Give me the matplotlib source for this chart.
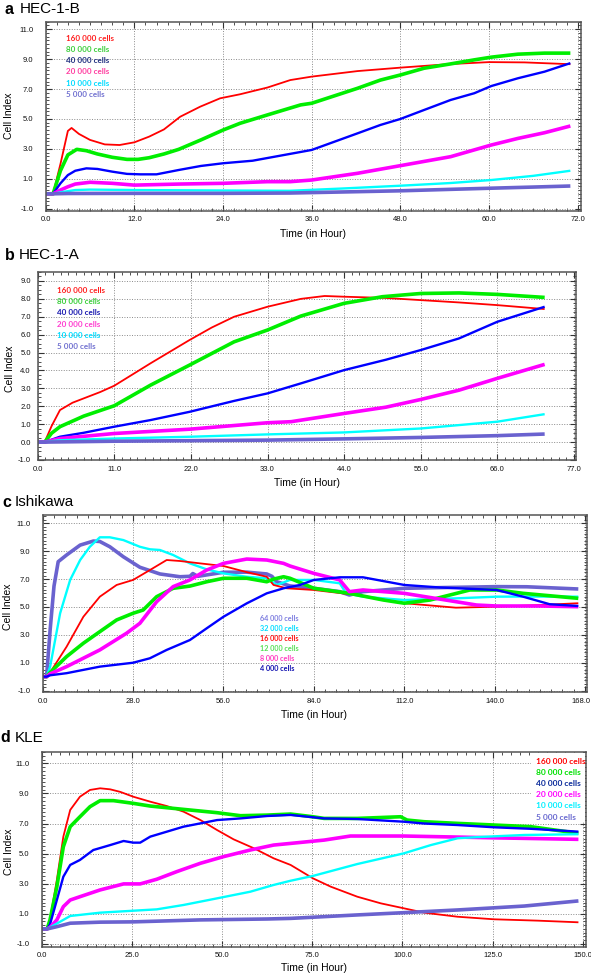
import matplotlib
matplotlib.use("Agg")
import matplotlib.pyplot as plt
import matplotlib.transforms as mtransforms
from matplotlib.ticker import AutoMinorLocator, FixedLocator
import numpy as np

W, H = 591, 976

# ---------------- Panel a: HEC-1-B ----------------
a_red_t = [0, 1.0, 2.0, 3.0, 3.5, 4.5, 6, 8, 10, 12, 14, 16, 18.2, 20.9, 23.6, 26.3, 30, 33.1, 36, 42.2, 48, 54.4, 60, 64.8, 71]
a_red_v = [0, 0, 2.0, 4.2, 4.4, 4.0, 3.6, 3.3, 3.26, 3.44, 3.82, 4.3, 5.15, 5.82, 6.38, 6.65, 7.1, 7.6, 7.83, 8.2, 8.43, 8.66, 8.8, 8.78, 8.66]
a_green_t = [0, 1, 2, 3, 4.2, 5.5, 7, 9, 11, 12.5, 14, 16, 18, 21, 24, 26.3, 30, 34.5, 36, 42.2, 45.3, 48, 51.2, 54.8, 58, 60.3, 63.9, 67.5, 71]
a_green_v = [0, 0, 1.55, 2.6, 2.97, 2.88, 2.66, 2.44, 2.3, 2.3, 2.41, 2.66, 2.97, 3.6, 4.26, 4.71, 5.27, 5.94, 6.05, 7.05, 7.6, 7.94, 8.39, 8.68, 8.95, 9.13, 9.33, 9.4, 9.4]
a_blue_t = [0, 1, 2, 3, 4, 5.5, 7, 9, 11, 12.8, 15, 18, 21, 24, 28, 33, 36, 42.2, 45.3, 48, 51.2, 54.8, 58, 60.3, 63.9, 67.5, 71]
a_blue_v = [0, 0, 0.7, 1.25, 1.54, 1.7, 1.66, 1.48, 1.33, 1.3, 1.3, 1.59, 1.86, 2.04, 2.21, 2.66, 2.93, 4.04, 4.6, 5.0, 5.6, 6.27, 6.72, 7.2, 7.72, 8.16, 8.73]
a_mag_t = [0, 1, 2, 3, 4, 6, 9, 12, 18, 24, 30, 33.1, 36, 42.2, 48, 54.8, 60.3, 63.9, 67.5, 71]
a_mag_v = [0, 0, 0.25, 0.47, 0.65, 0.77, 0.7, 0.58, 0.65, 0.7, 0.81, 0.81, 0.92, 1.37, 1.88, 2.48, 3.26, 3.7, 4.08, 4.53]
a_cyan_t = [0, 1, 2, 4, 6, 12, 24, 33, 40, 48, 54.8, 60.3, 66, 71]
a_cyan_v = [0, 0, 0.1, 0.25, 0.28, 0.25, 0.22, 0.2, 0.35, 0.54, 0.72, 0.92, 1.2, 1.54]
a_pur_t = [0, 1, 3, 12, 24, 33, 40, 48, 55, 60, 66, 71]
a_pur_v = [0, 0, 0.02, 0.03, 0.03, 0.05, 0.12, 0.2, 0.3, 0.37, 0.45, 0.52]
a_labels = ["160 000 cells", "80 000 cells", "40 000 cells", "20 000 cells", "10 000 cells", "5 000 cells"]

# ---------------- Panel b: HEC-1-A ----------------
b_red_t = [0, 1, 2, 3.2, 5, 6.6, 9, 11, 13.5, 16.2, 19, 21.8, 25, 28.2, 33, 37.8, 41.2, 44, 50, 55, 60.5, 66, 72.8]
b_red_v = [0, 0, 0.9, 1.79, 2.2, 2.44, 2.8, 3.15, 3.75, 4.4, 5.05, 5.7, 6.4, 7.0, 7.56, 8.0, 8.16, 8.12, 8.05, 7.93, 7.8, 7.65, 7.43]
b_green_t = [0, 1, 2, 3.2, 6.6, 11, 16.2, 21.8, 28.2, 33, 37.8, 44, 49.5, 55, 60.5, 66, 72.8]
b_green_v = [0, 0, 0.5, 0.86, 1.45, 2.03, 3.18, 4.3, 5.6, 6.26, 7.04, 7.75, 8.12, 8.3, 8.33, 8.25, 8.08]
b_blue_t = [0, 1, 3.2, 6.6, 11, 16.2, 21.8, 28.2, 33, 37.8, 44, 50, 55, 60.5, 66, 72.8]
b_blue_v = [0, 0, 0.3, 0.52, 0.86, 1.23, 1.69, 2.3, 2.72, 3.28, 4.02, 4.6, 5.14, 5.79, 6.72, 7.56]
b_mag_t = [0, 1, 3.2, 11, 21.8, 33, 36.4, 44, 50, 55, 60.5, 66, 72.8]
b_mag_v = [0, 0, 0.2, 0.48, 0.72, 1.08, 1.14, 1.6, 1.95, 2.38, 2.9, 3.56, 4.34]
b_cyan_t = [0, 1, 3, 11, 22, 33, 44, 55, 66, 72.8]
b_cyan_v = [0, 0, 0.1, 0.2, 0.3, 0.43, 0.54, 0.76, 1.14, 1.56]
b_pur_t = [0, 1, 11, 22, 33, 44, 55, 66, 72.8]
b_pur_v = [0, 0, 0.05, 0.08, 0.11, 0.18, 0.26, 0.36, 0.45]
b_labels = a_labels

# ---------------- Panel c: Ishikawa ----------------
c_pur_t = [0, 1.2, 2.3, 3.5, 4.8, 7.4, 11.6, 15.7, 17.7, 20.8, 25, 30.1, 36.3, 42.5, 45.6, 46.5, 48, 56, 63.2, 69.4, 71, 72.5, 76.6, 84, 92, 95, 99.2, 112, 128, 140.6, 150, 165.9]
c_pur_v = [0, 0, 3.35, 6.5, 8.25, 8.73, 9.44, 9.73, 9.7, 9.32, 8.6, 7.85, 7.37, 7.17, 7.2, 7.4, 7.2, 7.49, 7.5, 7.37, 7.2, 6.81, 6.51, 6.34, 6.1, 5.86, 6.1, 6.34, 6.41, 6.46, 6.45, 6.29]
c_cyan_t = [0, 1.2, 2.3, 5.4, 8.5, 11.6, 14.6, 17.7, 20.8, 25, 30.1, 33.2, 36.3, 40.4, 45.6, 50.8, 56, 63.2, 69.4, 72.5, 76.6, 84, 92, 94, 99.2, 112, 128, 140.6, 150, 165.9]
c_cyan_v = [0, 0, 0.72, 4.55, 6.94, 8.37, 9.32, 10.0, 10.0, 9.8, 9.32, 9.14, 9.09, 8.73, 8.13, 7.7, 7.41, 7.17, 7.06, 6.58, 6.94, 6.94, 6.7, 5.98, 5.74, 5.5, 5.62, 5.74, 5.75, 5.74]
c_red_t = [0, 1.2, 2.3, 7.4, 12.6, 17.7, 22.9, 28, 33.2, 38.4, 42.5, 48.7, 56, 63.2, 69.4, 71.5, 75.6, 84, 97.2, 112, 128, 140.6, 154, 165.9]
c_red_v = [0, 0, 0.3, 2.15, 4.3, 5.74, 6.58, 6.94, 7.65, 8.37, 8.3, 8.13, 7.94, 7.5, 7.17, 6.58, 6.34, 6.22, 5.86, 5.27, 4.95, 5.02, 5.14, 5.27]
c_green_t = [0, 1.2, 2.3, 7.4, 12.6, 17.7, 22.9, 28, 31.1, 35.3, 40.4, 45.6, 50.8, 56, 63.2, 69.4, 71.5, 74.6, 76.6, 84, 95, 105.5, 112, 120, 132.3, 140.6, 148.8, 165.9]
c_green_v = [0, 0, 0.3, 1.44, 2.4, 3.23, 4.07, 4.55, 4.78, 5.74, 6.34, 6.5, 6.81, 7.06, 7.06, 6.81, 7.0, 7.17, 7.06, 6.34, 5.98, 5.5, 5.27, 5.5, 6.22, 6.22, 5.98, 5.62]
c_mag_t = [0, 1.2, 2.3, 7.4, 17.7, 26, 30.1, 35.3, 40.4, 45.6, 50.8, 56, 63.2, 69.4, 74.6, 76.6, 84, 92, 95, 99.2, 112, 128, 134.4, 140.6, 154, 165.9]
c_mag_v = [0, 0, 0.2, 0.72, 1.92, 3.12, 3.83, 5.38, 6.46, 6.94, 7.65, 8.13, 8.44, 8.37, 8.13, 7.94, 7.41, 6.94, 6.1, 6.22, 5.98, 5.38, 5.14, 5.07, 5.07, 5.02]
c_blue_t = [0, 1.2, 2.3, 7.4, 17.7, 28, 33.2, 38.4, 45.6, 50.8, 56, 63.2, 69.4, 74.6, 79.7, 84, 92, 99.2, 112, 123, 140.6, 148.8, 157, 165.9]
c_blue_v = [0, 0, 0.1, 0.25, 0.72, 1.0, 1.32, 1.92, 2.63, 3.47, 4.3, 5.26, 5.98, 6.34, 6.58, 6.94, 7.13, 7.13, 6.58, 6.4, 6.22, 5.74, 5.2, 5.07]
c_labels = ["64 000 cells", "32 000 cells", "16 000 cells", "12 000 cells", "8 000 cells", "4 000 cells"]

# ---------------- Panel d: KLE ----------------
d_red_t = [0, 1.5, 2.3, 4.2, 6, 7.9, 10.6, 13.4, 16.2, 19, 21.8, 25.4, 30.1, 34.7, 39.3, 44, 48.6, 53.2, 58.8, 64.3, 69, 75.2, 80.1, 87.5, 94, 100.4, 106, 115.3, 125.4, 137.5, 148.8]
d_red_v = [0, 0, 0.6, 3.25, 6.13, 7.9, 8.78, 9.23, 9.34, 9.27, 9.1, 8.78, 8.45, 8.16, 7.79, 7.23, 6.57, 5.95, 5.36, 4.69, 4.25, 3.36, 2.81, 2.14, 1.7, 1.37, 1.08, 0.81, 0.64, 0.55, 0.44]
d_green_t = [0, 1.5, 2.3, 4.2, 6, 7.9, 10.6, 13.4, 16.2, 19.9, 25.4, 30.1, 39.3, 48.6, 55.1, 62.5, 69, 75.2, 78.3, 87.5, 99.5, 101.3, 106, 115.3, 125.4, 135.6, 148.8]
d_green_v = [0, 0, 0.6, 2.8, 5.46, 6.79, 7.45, 8.12, 8.52, 8.52, 8.34, 8.16, 7.94, 7.72, 7.52, 7.56, 7.63, 7.45, 7.34, 7.34, 7.45, 7.23, 7.12, 7.01, 6.9, 6.79, 6.35]
d_blue_t = [0, 1.5, 2.3, 4.2, 6, 7.9, 10.6, 14.3, 19, 22.7, 25.4, 27.3, 30.1, 34.7, 39.3, 44, 48.6, 55.1, 62.5, 69, 78.3, 87.5, 100.4, 106, 115.3, 125.4, 135.6, 148.8]
d_blue_v = [0, 0, 0.3, 1.92, 3.47, 4.25, 4.58, 5.24, 5.57, 5.84, 5.73, 5.73, 6.13, 6.46, 6.79, 7.01, 7.23, 7.34, 7.5, 7.57, 7.34, 7.3, 7.12, 7.0, 6.9, 6.75, 6.65, 6.46]
d_mag_t = [0, 1.5, 2.3, 4.2, 6, 7.9, 10.6, 16.2, 22.7, 27.3, 31.9, 37.5, 44, 50.4, 57.8, 64.3, 69, 78.3, 85.6, 100.4, 115.3, 125.4, 148.8]
d_mag_v = [0, 0, 0.1, 0.6, 1.48, 1.92, 2.14, 2.59, 2.99, 2.99, 3.3, 3.81, 4.36, 4.8, 5.24, 5.57, 5.68, 5.9, 6.17, 6.17, 6.1, 6.05, 5.95]
d_cyan_t = [0, 1.5, 2.3, 6, 7.9, 16.2, 25.4, 31.9, 39.3, 48.6, 57.8, 64.3, 69, 75.2, 87.5, 100.4, 107.9, 115.3, 120.9, 133.8, 148.8]
d_cyan_v = [0, 0, 0.1, 0.6, 0.86, 1.08, 1.21, 1.3, 1.59, 2.03, 2.47, 2.92, 3.2, 3.52, 4.31, 5.02, 5.57, 6.02, 6.1, 6.24, 6.29]
d_pur_t = [0, 1.5, 4.2, 7.9, 16.2, 25.4, 44, 62.5, 69, 87.5, 100.4, 115.3, 133.8, 148.8]
d_pur_v = [0, 0, 0.15, 0.38, 0.45, 0.47, 0.6, 0.66, 0.7, 0.93, 1.08, 1.26, 1.52, 1.86]
d_labels = a_labels

# ---------------- styling ----------------
RED, GREEN, BLUE, MAG, CYAN, PUR = "#ff0000", "#00ee00", "#0000ff", "#ff00ff", "#00ffff", "#6a62cf"
LW = {RED: 1.3, GREEN: 2.6, BLUE: 1.7, MAG: 2.6, CYAN: 1.7, PUR: 2.6}

TICKFONT = dict(family="Liberation Sans", size=5.5, color="#111111")
LABFONT = dict(family="Liberation Sans", size=7.5)


def frac(x, y):
    return x / W, 1 - y / H


def make_axes(fig, l, t, r, b):
    return fig.add_axes([l / W, 1 - b / H, (r - l) / W, (b - t) / H])


def style(ax, xlim, ylim, xt, yt, xminor, yminor, ypad):
    ax.set_xlim(*xlim)
    ax.set_ylim(*ylim)
    ax.xaxis.set_major_locator(FixedLocator(xt))
    ax.yaxis.set_major_locator(FixedLocator(yt))
    ax.set_xticklabels([f"{v:.1f}" for v in xt], **TICKFONT)
    ax.set_yticklabels([f"{v:.1f}" for v in yt], **TICKFONT)
    ax.xaxis.set_minor_locator(AutoMinorLocator(xminor))
    ax.yaxis.set_minor_locator(AutoMinorLocator(yminor))
    ax.tick_params(which="both", direction="in", top=True, right=True, color="#333333")
    ax.tick_params(which="major", length=4, width=0.8)
    ax.tick_params(which="minor", length=2.2, width=0.6)
    ax.tick_params(axis="x", which="major", pad=4)
    ax.tick_params(axis="y", which="major", pad=ypad)
    ax.grid(True, which="major", color="#8a8a8a", linestyle=(0, (1, 1.6)), linewidth=0.7)
    for s in ax.spines.values():
        s.set_color("#555555")
        s.set_linewidth(1.1)


def plot_series(ax, series):
    for t, v, c in series:
        ax.plot(t, v, color=c, lw=LW[c], solid_capstyle="butt", solid_joinstyle="round")


def title(fig, letter, name, x1, x2, y):
    fig.text(*frac(x1, y), letter, fontsize=11.5, fontweight="bold", family="Liberation Sans", va="center", ha="left")
    fig.text(*frac(x2, y), name, fontsize=11, family="Liberation Sans", va="center", ha="left")


def legend(fig, labels, colors, x, y0, dy, size):
    for i, (lab, c) in enumerate(zip(labels, colors)):
        fig.text(*frac(x, y0 + i * dy), lab, color=c, fontsize=size, fontweight="bold",
                 family="Lato", va="center", ha="left")


fig = plt.figure(figsize=(W / 100, H / 100), dpi=100)
fig.patch.set_facecolor("white")

# Panel a
axa = make_axes(fig, 45.7, 21.7, 580.7, 210.7)
style(axa, (0, 72.4), (-1.13, 11.5), [0, 12, 24, 36, 48, 60, 72], [-1, 1, 3, 5, 7, 9, 11], 8, 8, 9)
plot_series(axa, [(a_red_t, a_red_v, RED), (a_green_t, a_green_v, GREEN), (a_blue_t, a_blue_v, BLUE),
                  (a_mag_t, a_mag_v, MAG), (a_cyan_t, a_cyan_v, CYAN), (a_pur_t, a_pur_v, PUR)])
title(fig, "a", "HEC-1-B", 4.5, 20, 9)
fig.text(*frac(9, 116), "Cell Index", rotation=90, va="center", ha="center", **LABFONT)
fig.text(*frac(313, 234), "Time (in Hour)", va="center", ha="center", **LABFONT)
legend(fig, a_labels, ["#ff2020", "#3ccf3c", "#203080", "#ff3da0", "#00dcff", "#7070d0"], 66.5, 38.7, 11.1, 5.8)

# Panel b
axb = make_axes(fig, 37.7, 272, 576, 460)
style(axb, (0, 77.3), (-1.0, 9.5), [0, 11, 22, 33, 44, 55, 66, 77], list(range(-1, 10)), 10, 4, 5)
plot_series(axb, [(b_red_t, b_red_v, RED), (b_green_t, b_green_v, GREEN), (b_blue_t, b_blue_v, BLUE),
                  (b_mag_t, b_mag_v, MAG), (b_cyan_t, b_cyan_v, CYAN), (b_pur_t, b_pur_v, PUR)])
title(fig, "b", "HEC-1-A", 4.5, 18.5, 255)
fig.text(*frac(10, 369), "Cell Index", rotation=90, va="center", ha="center", **LABFONT)
fig.text(*frac(307, 483), "Time (in Hour)", va="center", ha="center", **LABFONT)
legend(fig, b_labels, ["#ff2020", "#3ccf3c", "#1a1ab0", "#ff3dd0", "#00dcff", "#7070d0"], 57, 290.5, 11.2, 5.8)

# Panel c
axc = make_axes(fig, 42.7, 515, 586.7, 692)
style(axc, (0, 168.5), (-1.1, 11.6), [0, 28, 56, 84, 112, 140, 168], [-1, 1, 3, 5, 7, 9, 11], 8, 8, 9)
plot_series(axc, [(c_pur_t, c_pur_v, PUR), (c_cyan_t, c_cyan_v, CYAN), (c_red_t, c_red_v, RED),
                  (c_green_t, c_green_v, GREEN), (c_mag_t, c_mag_v, MAG), (c_blue_t, c_blue_v, BLUE)])
# keep the last x tick label inside the picture
last = axc.get_xticklabels()[-1]
last.set_transform(last.get_transform() + mtransforms.ScaledTranslation(-4 / 100, 0, fig.dpi_scale_trans))
title(fig, "c", "Ishikawa", 2, 14.5, 502)
fig.text(*frac(8.5, 607), "Cell Index", rotation=90, va="center", ha="center", **LABFONT)
fig.text(*frac(314, 715), "Time (in Hour)", va="center", ha="center", **LABFONT)
legend(fig, c_labels, ["#7f7fe0", "#00dcff", "#ff1010", "#55e055", "#ff3dc0", "#1010b0"], 260, 618.7, 10.0, 5.2)

# Panel d
axd = make_axes(fig, 41.7, 752, 586, 946.7)
style(axd, (0, 150.9), (-1.18, 11.75), [0, 25, 50, 75, 100, 125, 150], [-1, 1, 3, 5, 7, 9, 11], 10, 8, 9)
plot_series(axd, [(d_red_t, d_red_v, RED), (d_green_t, d_green_v, GREEN), (d_blue_t, d_blue_v, BLUE),
                  (d_mag_t, d_mag_v, MAG), (d_cyan_t, d_cyan_v, CYAN), (d_pur_t, d_pur_v, PUR)])
# white backdrop behind the legend block
x0, y0 = axd.transAxes.inverted().transform(fig.transFigure.transform(frac(531, 822)))
x1, y1 = axd.transAxes.inverted().transform(fig.transFigure.transform(frac(585, 753)))
axd.add_patch(plt.Rectangle((x0, y0), x1 - x0, y1 - y0, transform=axd.transAxes,
                            facecolor="white", edgecolor="none", zorder=3))
title(fig, "d", "KLE", 0.5, 15, 738)
fig.text(*frac(8.8, 852), "Cell Index", rotation=90, va="center", ha="center", **LABFONT)
fig.text(*frac(314, 968), "Time (in Hour)", va="center", ha="center", **LABFONT)
legend(fig, d_labels, ["#ff0000", "#00e000", "#0a2a9a", "#ff00ff", "#00f0ff", "#6a6ad0"], 536.5, 761, 11.2, 6.0)

fig.savefig("out.png", dpi=100, facecolor="white")
